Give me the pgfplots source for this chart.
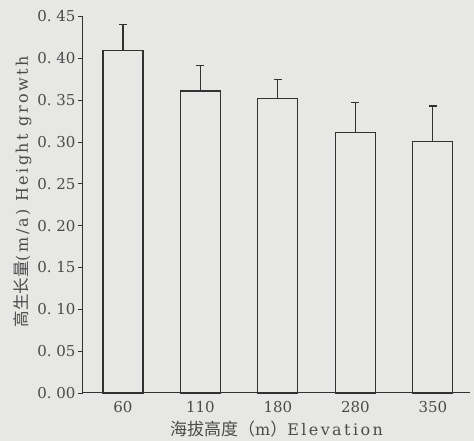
\documentclass[border=0pt]{standalone}
\usepackage{fontspec}
\setmainfont{DejaVu Serif}
\newfontfamily\cjk{Noto Sans CJK SC}
\newfontfamily\wide[LetterSpace=15]{DejaVu Serif}
\usepackage{pgfplots}
\pgfplotsset{compat=1.18}
\definecolor{bg}{RGB}{231,231,229}
\definecolor{ink}{RGB}{50,50,50}
\definecolor{txt}{RGB}{75,75,75}
\begin{document}
\begin{tikzpicture}[x=1pt,y=1pt]
\fill[bg] (0,0) rectangle (474,441);
\begin{axis}[
  at={(83pt,48pt)}, anchor=south west,
  scale only axis, width=387pt, height=376.5pt,
  xmin=-0.516, xmax=4.48, ymin=0, ymax=0.45,
  axis x line*=bottom, axis y line*=left,
  axis line style={ink, line width=1pt, -},
  xtick={0,1,2,3,4},
  xticklabels={60,110,180,280,350},
  x tick style={draw=none},
  extra x ticks={0.5,2.5,3.5},
  extra x tick labels={},
  extra x tick style={tick align=inside, major tick length=6pt, tick style={draw=ink, line width=0.8pt}},
  ytick={0,0.05,0.1,0.15,0.2,0.25,0.3,0.35,0.4,0.45},
  yticklabels={0.~00,0.~05,0.~10,0.~15,0.~20,0.~25,0.~30,0.~35,0.~40,0.~45},
  y tick style={ink, line width=0.8pt},
  tick align=outside, major tick length=5pt,
  tick label style={font=\fontsize{15}{15}\selectfont, text=txt},
  yticklabel style={xshift=1pt},
  xlabel={{\cjk\fontsize{17}{17}\selectfont 海拔高度（}m{\cjk\fontsize{17}{17}\selectfont ）}Elevation},
  ylabel={{\cjk\fontsize{16.5}{17}\selectfont 高生长量}(m/a) Height growth},
  label style={font=\wide\fontsize{16}{17}\selectfont, text=txt},
  xlabel style={yshift=4pt},
  ylabel style={yshift=-1pt, xshift=13pt},
  clip=false,
]
\addplot[ybar, bar width=40pt, draw=ink, fill=bg, line width=1.2pt,
  error bars/.cd, y dir=plus, y explicit,
  error bar style={ink, line width=1.2pt},
  error mark options={ink, rotate=90, mark size=4pt, line width=1.2pt}]
  table[x=x, y=y, y error=e] {
x y e
0 0.409 0.031
1 0.361 0.030
2 0.352 0.023
3 0.311 0.036
4 0.301 0.042
};
\end{axis}
\end{tikzpicture}
\end{document}
